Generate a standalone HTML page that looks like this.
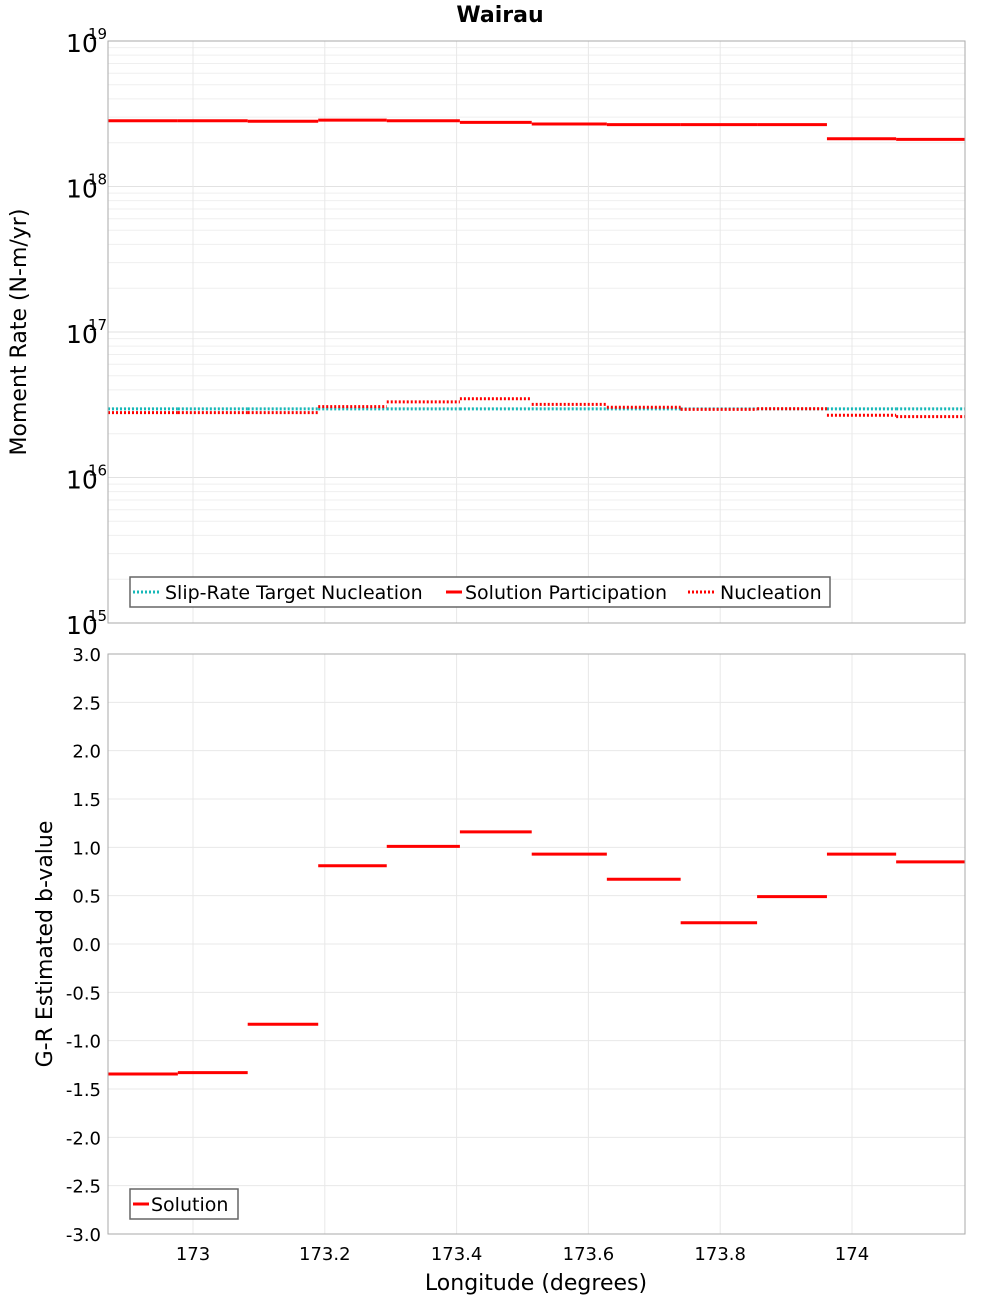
<!DOCTYPE html>
<html><head><meta charset="utf-8"><style>
body{margin:0;background:#fff;}
svg{display:block;font-family:"DejaVu Sans","Liberation Sans",sans-serif;}
</style></head><body>
<svg id="chart" width="1000" height="1300" xmlns="http://www.w3.org/2000/svg">
<text x="500" y="22" text-anchor="middle" font-size="22" font-weight="bold">Wairau</text>
<g id="topPanel"></g>
<g id="botPanel"></g>
</svg>
<script>
const binEdges = [172.871,172.977,173.083,173.190,173.294,173.405,173.514,173.628,173.740,173.856,173.962,174.067,174.171];
const participation = [2.83e18,2.83e18,2.81e18,2.86e18,2.83e18,2.76e18,2.69e18,2.66e18,2.66e18,2.66e18,2.13e18,2.11e18];
const nucleation = [2.79e16,2.79e16,2.79e16,3.07e16,3.31e16,3.48e16,3.18e16,3.04e16,2.94e16,2.97e16,2.68e16,2.62e16];
const targetNucleation = [2.96e16,2.96e16,2.96e16,2.96e16,2.96e16,2.96e16,2.96e16,2.96e16,2.96e16,2.96e16,2.96e16,2.96e16];
const bValues = [-1.345,-1.33,-0.83,0.81,1.01,1.16,0.93,0.67,0.22,0.49,0.93,0.85];
const xTicks = [173,173.2,173.4,173.6,173.8,174];
const xTickLabels = ["173","173.2","173.4","173.6","173.8","174"];
const logDecades = [15,16,17,18,19];
const bTicks = [-3,-2.5,-2,-1.5,-1,-0.5,0,0.5,1,1.5,2,2.5,3];

(function(){
const NS="http://www.w3.org/2000/svg";
const L=108,R=965,T1=41,B1=623,T2=654,B2=1234;
const xMin=172.871,xMax=174.1715;
const sx=v=>L+(v-xMin)/(xMax-xMin)*(R-L);
const sy1=v=>B1-(Math.log10(v)-15)/4*(B1-T1);
const sy2=v=>B2-(v+3)/6*(B2-T2);
function mk(p,tag,a,txt){const e=document.createElementNS(NS,tag);for(const k in a)e.setAttribute(k,a[k]);if(txt!==undefined)e.textContent=txt;p.appendChild(e);return e;}
const topG=document.getElementById('topPanel'),botG=document.getElementById('botPanel');

for(let d=15;d<19;d++)for(let m=1;m<10;m++){const y=sy1(m*Math.pow(10,d));
 const g=mk(topG,'line',{x1:L,x2:R,y1:y,y2:y,stroke:m===1?'#e2e2e2':'#efefef','stroke-width':1});
 
 }
[botG,topG].forEach(p=>xTicks.forEach(t=>{const x=sx(t);
 const g=mk(p,'line',{x1:x,x2:x,y1:p===topG?T1:T2,y2:p===topG?B1:B2,stroke:'#e8e8e8','stroke-width':1});
 
 }));
bTicks.forEach(t=>{const y=sy2(t);
 const g=mk(botG,'line',{x1:L,x2:R,y1:y,y2:y,stroke:'#e8e8e8','stroke-width':1});
 
 });

function steps(p,vals,sy,color,dash,name){
 vals.forEach((v,i)=>{const l=mk(p,'line',{x1:sx(binEdges[i]),x2:sx(binEdges[i+1]),y1:sy(v),y2:sy(v),stroke:color,'stroke-width':3});
  if(dash)l.setAttribute('stroke-dasharray',dash);
  
  });
}
steps(topG,targetNucleation,sy1,'#17b8b8','2,2','target-nucleation');
steps(topG,participation,sy1,'#ff0000',null,'participation');
steps(topG,nucleation,sy1,'#ff0000','2,2','nucleation');
steps(botG,bValues,sy2,'#ff0000',null,'b-value');

const f1=mk(topG,'rect',{x:L,y:T1,width:R-L,height:B1-T1,fill:'none',stroke:'#aaa'});


const f2=mk(botG,'rect',{x:L,y:T2,width:R-L,height:B2-T2,fill:'none',stroke:'#aaa'});



logDecades.forEach(d=>{const y=sy1(Math.pow(10,d));
 const t=mk(topG,'text',{x:66,y:y+11,'font-size':25},'10');
 
 
 const s=mk(topG,'text',{x:88,y:y-2,'font-size':15},String(d));
 
 });
bTicks.forEach(t=>{const e=mk(botG,'text',{x:101,y:sy2(t)+7,'font-size':18,'text-anchor':'end'},t.toFixed(1));
 
 });
xTicks.forEach((t,i)=>{const e=mk(botG,'text',{x:sx(t),y:1260,'font-size':18,'text-anchor':'middle'},xTickLabels[i]);
 
 });
})();
</script>
<svg style="position:absolute;left:0;top:0" width="1000" height="1300" xmlns="http://www.w3.org/2000/svg" font-family="DejaVu Sans, Liberation Sans, sans-serif">
<text transform="translate(26,332) rotate(-90)" text-anchor="middle" font-size="22">Moment Rate (N-m/yr)</text>
<text transform="translate(52,944) rotate(-90)" text-anchor="middle" font-size="22">G-R Estimated b-value</text>
<text x="536" y="1290" text-anchor="middle" font-size="22">Longitude (degrees)</text>
<g>
<rect x="130" y="577" width="700" height="30" fill="#fff" stroke="#666" stroke-width="1.5"/>
<line x1="133" x2="160" y1="592" y2="592" stroke="#17b8b8" stroke-width="3" stroke-dasharray="2,2"/>
<text x="165" y="599" font-size="19">Slip-Rate Target Nucleation</text>
<line x1="446" x2="462" y1="592" y2="592" stroke="#f00" stroke-width="3"/>
<text x="465" y="599" font-size="19">Solution Participation</text>
<line x1="688" x2="716" y1="592" y2="592" stroke="#f00" stroke-width="3" stroke-dasharray="2,2"/>
<text x="720" y="599" font-size="19">Nucleation</text>
</g>
<g>
<rect x="130" y="1189" width="108" height="30" fill="#fff" stroke="#666" stroke-width="1.5"/>
<line x1="133" x2="149" y1="1204" y2="1204" stroke="#f00" stroke-width="3"/>
<text x="151" y="1211" font-size="19">Solution</text>
</g>
</svg>
</body></html>
